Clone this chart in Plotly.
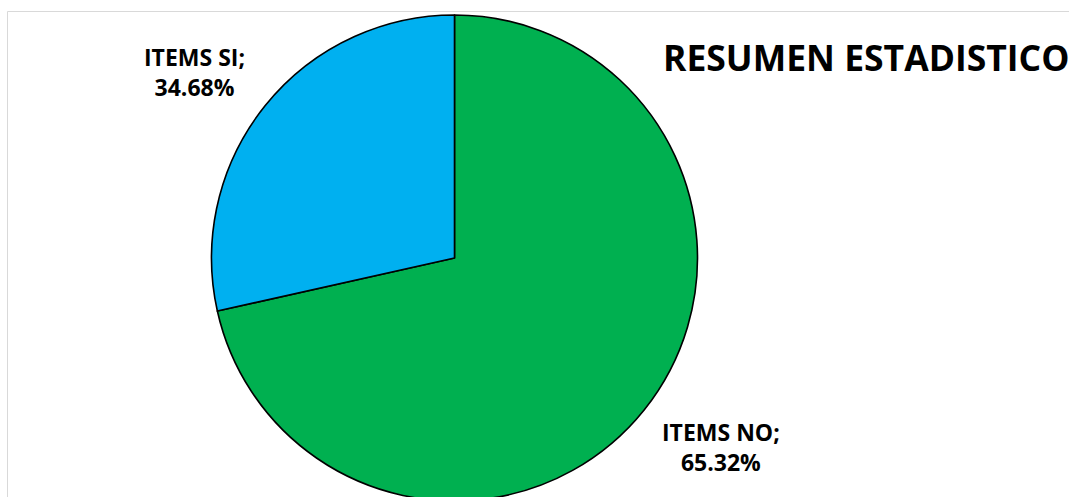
import plotly.graph_objects as go

# Data
categories = ["ITEMS NO", "ITEMS SI"]
label_pct = ["65.32%", "34.68%"]          # percentages printed in the data labels
slice_values = [71.5, 28.5]               # slice sizes as drawn in the picture
colors = ["#00B050", "#00B0F0"]
title_text = "RESUMEN ESTADISTICO"

W, H = 1069, 510

fig = go.Figure()
fig.add_trace(go.Pie(
    labels=categories,
    values=slice_values,
    sort=False,
    direction="clockwise",
    rotation=0,
    marker=dict(colors=colors, line=dict(color="#000000", width=1.6)),
    textinfo="none",
    hoverinfo="label+value",
    showlegend=False,
    domain=dict(x=[211.5 / W, 697.5 / W], y=[1 - 501 / H, 1 - 15 / H]),
))

# data labels
label_pos = {"ITEMS NO": (721, 447), "ITEMS SI": (194, 72)}
for cat, pct in zip(categories, label_pct):
    px, py = label_pos[cat]
    fig.add_annotation(
        x=px / W, y=1 - py / H, xref="paper", yref="paper",
        text=f"<b>{cat};<br>{pct}</b>", showarrow=False,
        xanchor="center", yanchor="middle", align="center",
        font=dict(family="Open Sans", size=23, color="#000000"),
    )

# title
fig.add_annotation(
    x=661 / W, y=1 - 57 / H, xref="paper", yref="paper",
    text=f"<b>{title_text}</b>", showarrow=False,
    xanchor="left", yanchor="middle",
    font=dict(family="Open Sans", size=35.5, color="#000000"),
)

# chart area border
fig.add_shape(
    type="rect", xref="paper", yref="paper",
    x0=7.5 / W, x1=1.2, y0=-0.2, y1=1 - 11.5 / H,
    line=dict(color="#D9D9D9", width=1), fillcolor="rgba(0,0,0,0)", layer="below",
)

fig.update_layout(
    width=W, height=H,
    margin=dict(l=0, r=0, t=0, b=0),
    paper_bgcolor="#FFFFFF", plot_bgcolor="#FFFFFF",
)

fig.write_html(
    "out.html",
    config={"displayModeBar": False},
    post_script="document.body.style.margin='0';document.body.style.overflow='hidden';",
)
